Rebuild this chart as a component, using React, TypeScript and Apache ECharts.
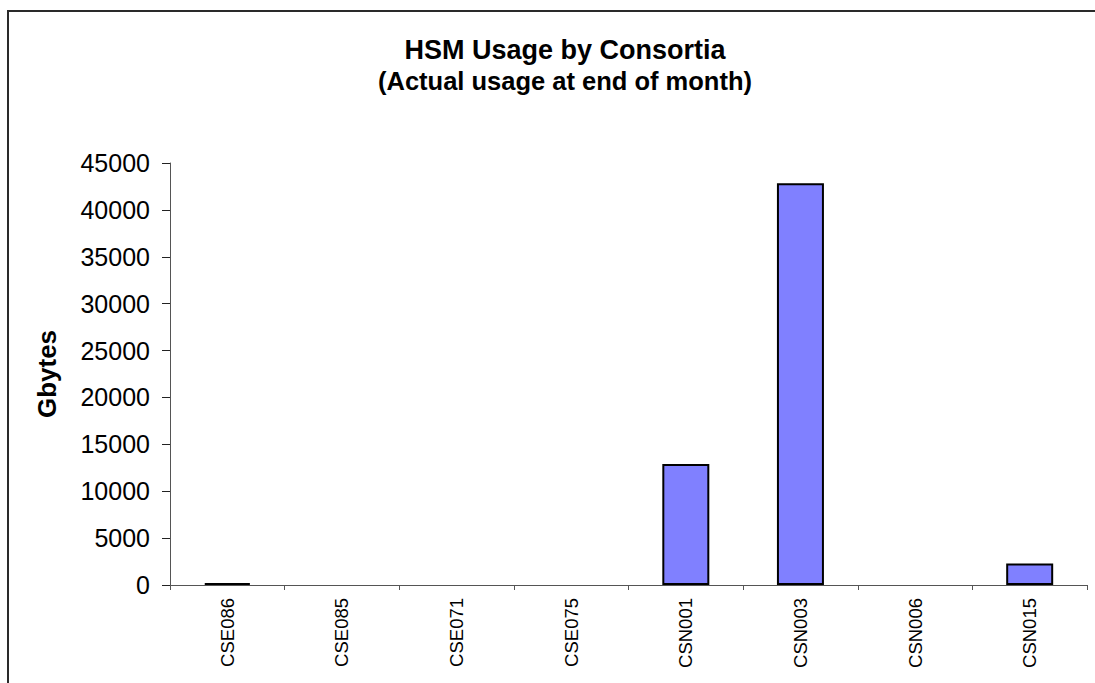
import React, { useEffect, useRef } from "react";
import * as echarts from "echarts";

const categories = ["CSE086", "CSE085", "CSE071", "CSE075", "CSN001", "CSN003", "CSN006", "CSN015"];
const gbytes = [200, 0, 0, 0, 12900, 42850, 0, 2300];
const yTicks = { min: 0, max: 45000, interval: 5000 };
const titleLines = ["HSM Usage by Consortia", "(Actual usage at end of month)"];
const yName = "Gbytes";

export default function App() {
  const ref = useRef<HTMLDivElement>(null);
  useEffect(() => {
    if (!ref.current) return;
    const chart = echarts.init(ref.current, null, { renderer: "svg" });
    const font = "'Liberation Sans', Arial, sans-serif";
    chart.setOption({
      animation: false,
      backgroundColor: "#ffffff",
      title: {
        text: `{a|${titleLines[0]}}\n{b|${titleLines[1]}}`,
        left: 560,
        top: 29,
        textAlign: "center",
        textStyle: {
          fontFamily: font,
          fontWeight: "bold",
          fontSize: 25,
          color: "#000",
          rich: {
            a: { fontFamily: font, fontWeight: "bold", fontSize: 27, lineHeight: 31, color: "#000" },
            b: { fontFamily: font, fontWeight: "bold", fontSize: 25.5, lineHeight: 31, color: "#000" },
          },
        },
      },
      graphic: [
        {
          type: "rect",
          shape: { x: 8, y: 11, width: 1300, height: 900 },
          style: { fill: "none", stroke: "#2a2a2a", lineWidth: 2 },
          silent: true,
        },
      ],
      grid: { left: 170, right: 8, top: 163, bottom: 98, containLabel: false },
      xAxis: {
        type: "category",
        data: categories,
        axisLine: { lineStyle: { color: "#555", width: 1 } },
        axisTick: { show: true, length: 5, lineStyle: { color: "#555" }, alignWithLabel: false },
        axisLabel: {
          rotate: 90,
          margin: 13,
          fontFamily: font,
          fontSize: 18.5,
          color: "#000",
        },
      },
      yAxis: {
        type: "value",
        min: yTicks.min,
        max: yTicks.max,
        interval: yTicks.interval,
        name: yName,
        nameLocation: "middle",
        nameGap: 110,
        nameRotate: 90,
        nameTextStyle: { fontFamily: font, fontWeight: "bold", fontSize: 26, color: "#000" },
        axisLine: { show: true, lineStyle: { color: "#555", width: 1 } },
        axisTick: { show: true, length: 8, lineStyle: { color: "#222" } },
        splitLine: { show: false },
        axisLabel: {
          margin: 20,
          fontFamily: font,
          fontSize: 25,
          color: "#000",
          formatter: (v: number) => String(v),
        },
      },
      series: [
        {
          type: "bar",
          barWidth: 47,
          data: gbytes.map((v) => (v === 0 ? { value: 0, itemStyle: { borderWidth: 0 } } : v)),
          itemStyle: { color: "#8080ff", borderColor: "#000", borderWidth: 2 },
        },
      ],
    });
    return () => chart.dispose();
  }, []);
  return (
    <div
      ref={ref}
      style={{ position: "fixed", left: 0, top: 0, width: 1095, height: 683 }}
    />
  );
}
